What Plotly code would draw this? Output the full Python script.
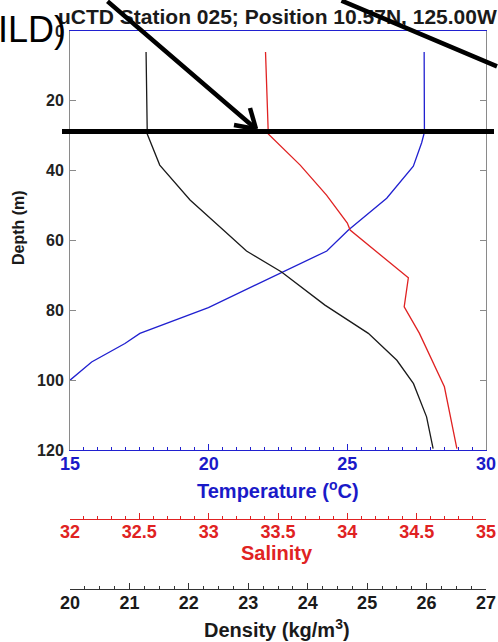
import plotly.graph_objects as go

# ---------------- data ----------------
depth_temp = [6, 29, 32, 38.7, 47.9, 57, 63, 69, 79.2, 86.6, 89.5, 94.8, 100]
temperature = [27.77, 27.78, 27.68, 27.38, 26.42, 25.04, 24.26, 22.67, 19.99, 17.52, 16.98, 15.78, 15.0]

depth_sal = [6, 29.5, 38.4, 47, 55, 57, 70.7, 79, 86.6, 101.9, 119.6]
salinity = [33.41, 33.43, 33.66, 33.85, 34.0, 34.02, 34.44, 34.41, 34.52, 34.70, 34.79]

depth_dens = [6, 29.5, 38.4, 48.4, 57, 63, 69, 78.5, 86.6, 94.3, 101, 110.5, 119.6]
density = [21.28, 21.30, 21.51, 22.02, 22.58, 22.97, 23.56, 24.29, 25.02, 25.50, 25.78, 26.00, 26.11]

temp_ticks = [15, 20, 25, 30]
sal_ticks = [32, 32.5, 33, 33.5, 34, 34.5, 35]
dens_ticks = [20, 21, 22, 23, 24, 25, 26, 27]
depth_ticks = [0, 20, 40, 60, 80, 100, 120]
mld_depth = 28.8

title_text = "uCTD Station 025; Position 10.57N, 125.00W"

# ---------------- layout helpers ----------------
W, H = 498, 642
ML, MR, MT, MB = 70, 12, 31, 53
PW = W - ML - MR
PH = H - MT - MB


def px(x):
    return (x - ML) / PW


def py(y):
    return (H - MB - y) / PH


def bold(vals):
    return ["<b>%s</b>" % v for v in vals]


FONT = "Liberation Sans, Arial, Helvetica, sans-serif"
BLUE = "#2020d0"
BLUE_TXT = "#1a1ac8"
RED = "#e02222"
GREY = "#8a8a8a"
BLACK = "#1a1a1a"

fig = go.Figure()
fig.add_trace(go.Scatter(x=density, y=depth_dens, mode="lines",
                         line=dict(color=BLACK, width=1.3), xaxis="x3", yaxis="y"))
fig.add_trace(go.Scatter(x=salinity, y=depth_sal, mode="lines",
                         line=dict(color=RED, width=1.3), xaxis="x2", yaxis="y"))
fig.add_trace(go.Scatter(x=temperature, y=depth_temp, mode="lines",
                         line=dict(color=BLUE, width=1.3), xaxis="x", yaxis="y"))

fig.update_layout(
    width=W, height=H,
    margin=dict(l=ML, r=MR, t=MT, b=MB, autoexpand=False),
    paper_bgcolor="white", plot_bgcolor="white",
    showlegend=False,
    font=dict(family=FONT),
    xaxis=dict(
        domain=[0, 1], range=[15, 30], anchor="y",
        tickmode="array", tickvals=temp_ticks, ticktext=bold(temp_ticks),
        ticks="inside", ticklen=6, tickwidth=1, tickcolor=BLUE,
        showline=True, linecolor=BLUE, linewidth=1, mirror=True,
        minor=dict(tickmode="linear", tick0=15, dtick=0.5, ticks="inside",
                   ticklen=3, tickcolor=BLUE),
        showgrid=False, zeroline=False, ticklabelstandoff=-3,
        tickfont=dict(family=FONT, size=18, color=BLUE_TXT, weight="bold"),
    ),
    xaxis4=dict(
        overlaying="x", anchor="y", side="top", range=[15, 30],
        tickmode="array", tickvals=temp_ticks, showticklabels=False,
        ticks="inside", ticklen=6, tickwidth=1, tickcolor=BLUE,
        showline=True, linecolor=BLUE, linewidth=1,
        minor=dict(tickmode="linear", tick0=15, dtick=0.5, ticks="inside",
                   ticklen=3, tickcolor=BLUE),
        showgrid=False, zeroline=False,
    ),
    xaxis2=dict(
        overlaying="x", anchor="free", position=py(519), side="bottom",
        range=[32, 35], tickmode="array", tickvals=sal_ticks,
        ticktext=bold(sal_ticks),
        ticks="inside", ticklen=6, tickwidth=1, tickcolor=RED,
        showline=True, linecolor=RED, linewidth=1,
        minor=dict(tickmode="linear", tick0=32, dtick=0.1, ticks="inside",
                   ticklen=3, tickcolor=RED),
        showgrid=False, zeroline=False, ticklabelstandoff=-4,
        tickfont=dict(family=FONT, size=18, color=RED, weight="bold"),
    ),
    xaxis3=dict(
        overlaying="x", anchor="free", position=0, side="bottom",
        range=[20, 27], tickmode="array", tickvals=dens_ticks,
        ticktext=bold(dens_ticks),
        ticks="inside", ticklen=6, tickwidth=1, tickcolor="#333333",
        showline=True, linecolor="#333333", linewidth=1,
        minor=dict(tickmode="linear", tick0=20, dtick=0.25, ticks="inside",
                   ticklen=3, tickcolor="#333333"),
        showgrid=False, zeroline=False, ticklabelstandoff=-3,
        tickfont=dict(family=FONT, size=18, color=BLACK, weight="bold"),
    ),
    yaxis=dict(
        domain=[py(450), 1], range=[120, 0], anchor="x",
        tickmode="array", tickvals=depth_ticks, ticktext=bold(depth_ticks),
        ticks="inside", ticklen=6, tickwidth=1, tickcolor=GREY,
        showline=True, linecolor=GREY, linewidth=1, mirror="ticks",
        showgrid=False, zeroline=False, ticklabelstandoff=2,
        tickfont=dict(family=FONT, size=16, color="#222222", weight="bold"),
    ),
)

# MLD horizontal bar
fig.add_shape(type="line", xref="paper", yref="y",
              x0=px(62), x1=px(494), y0=mld_depth, y1=mld_depth,
              line=dict(color="black", width=5))
# arrow head barbs
fig.add_shape(type="line", xref="paper", yref="paper",
              x0=px(256), y0=py(129), x1=px(250), y1=py(108),
              line=dict(color="black", width=4.5))
fig.add_shape(type="line", xref="paper", yref="paper",
              x0=px(256), y0=py(129), x1=px(234), y1=py(125),
              line=dict(color="black", width=4.5))

annotations = [
    dict(text="<b>" + title_text + "</b>", x=px(277), y=py(16), xref="paper", yref="paper",
         xanchor="center", yanchor="middle", showarrow=False,
         font=dict(family=FONT, size=21, color=BLACK)),
    dict(text="<b>Temperature (<sup>o</sup>C)</b>", x=px(278), y=py(490), xref="paper", yref="paper",
         xanchor="center", yanchor="middle", showarrow=False,
         font=dict(family=FONT, size=20, color=BLUE_TXT)),
    dict(text="<b>Salinity</b>", x=px(277), y=py(553), xref="paper", yref="paper",
         xanchor="center", yanchor="middle", showarrow=False,
         font=dict(family=FONT, size=20, color=RED)),
    dict(text="<b>Density (kg/m<sup>3</sup>)</b>", x=px(277), y=py(628), xref="paper", yref="paper",
         xanchor="center", yanchor="middle", showarrow=False,
         font=dict(family=FONT, size=20, color=BLACK)),
    dict(text="<b>Depth (m)</b>", x=px(19), y=py(228), xref="paper", yref="paper",
         xanchor="center", yanchor="middle", showarrow=False, textangle=-90,
         font=dict(family=FONT, size=16, color=BLACK)),
    dict(text="ILD)", x=px(68), y=py(29), xref="paper", yref="paper",
         xanchor="right", yanchor="middle", showarrow=False,
         font=dict(family=FONT, size=36, color="black")),
    dict(text="", x=px(256), y=py(129), xref="paper", yref="paper",
         showarrow=True, arrowhead=0, arrowwidth=4.5, arrowcolor="black",
         ax=-150, ay=-150, standoff=0, font=dict(size=1)),
    dict(text="", x=px(505), y=py(66.4), xref="paper", yref="paper",
         showarrow=True, arrowhead=0, arrowwidth=4.5, arrowcolor="black",
         ax=-165, ay=-76.4, standoff=0, font=dict(size=1)),
]
fig.update_layout(annotations=annotations)

fig.write_html("out.html")
